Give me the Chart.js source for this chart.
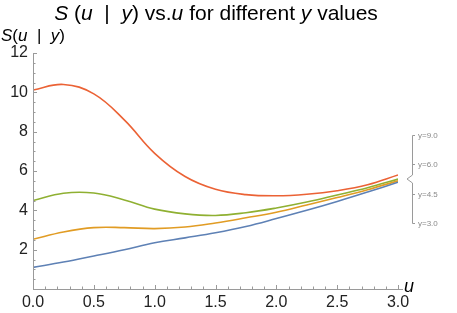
<!DOCTYPE html>
<html>
<head>
<meta charset="utf-8">
<script src="https://cdn.jsdelivr.net/npm/chart.js@4.4.1/dist/chart.umd.min.js"></script>
<style>
  html, body { margin: 0; padding: 0; background: #fff; }
  #wrap { width: 457px; height: 313px; }
</style>
</head>
<body>
<div id="wrap"><canvas id="myChart" width="457" height="313"></canvas></div>
<script>
// values
const uValues = [0, 0.25, 0.5, 0.75, 1.0, 1.25, 1.5, 1.75, 2.0, 2.25, 2.5, 2.75, 3.0];
const sY3  = [1.10, 1.37, 1.68, 2.00, 2.35, 2.60, 2.86, 3.18, 3.58, 4.00, 4.45, 4.93, 5.43];
const sY45 = [2.53, 2.90, 3.12, 3.12, 3.07, 3.15, 3.36, 3.62, 3.90, 4.27, 4.65, 5.05, 5.50];
const sY6  = [4.50, 4.87, 4.88, 4.53, 4.06, 3.82, 3.74, 3.88, 4.12, 4.42, 4.78, 5.15, 5.59];
const sY9  = [10.12, 10.40, 9.92, 8.60, 6.90, 5.72, 5.07, 4.80, 4.74, 4.82, 5.00, 5.30, 5.80];

const legendLabels = ['y=9.0', 'y=6.0', 'y=4.5', 'y=3.0'];
const lineColors = ['#EB6235', '#8FB032', '#E19C24', '#5E81B5'];
const xTicks = [0, 0.5, 1.0, 1.5, 2.0, 2.5, 3.0];
const yTicks = [2, 4, 6, 8, 10, 12];

const AXIS = '#9a9a9a';
const FONT = '"Liberation Sans", Arial, sans-serif';

function pts(vals) {
  return uValues.map((u, i) => ({ x: u, y: vals[i] }));
}

function drawRich(ctx, parts, x, y, size, align) {
  let total = 0;
  parts.forEach(p => {
    ctx.font = (p[1] ? 'italic ' : '') + size + 'px ' + FONT;
    total += ctx.measureText(p[0]).width;
  });
  let cx = align === 'center' ? x - total / 2 : x;
  parts.forEach(p => {
    ctx.font = (p[1] ? 'italic ' : '') + size + 'px ' + FONT;
    ctx.fillText(p[0], cx, y);
    cx += ctx.measureText(p[0]).width;
  });
}

const decorations = {
  id: 'decorations',
  afterDraw(chart) {
    const ctx = chart.ctx;
    const xs = chart.scales.x, ys = chart.scales.y;
    const x0 = xs.getPixelForValue(0), y0 = ys.getPixelForValue(0);
    ctx.save();
    // axes lines
    ctx.strokeStyle = AXIS;
    ctx.lineWidth = 1;
    ctx.beginPath();
    ctx.moveTo(x0 + 0.5, y0);
    ctx.lineTo(x0 + 0.5, ys.getPixelForValue(12));
    ctx.moveTo(x0, y0 + 0.5);
    ctx.lineTo(xs.getPixelForValue(3) + 5, y0 + 0.5);
    // x ticks (inward)
    for (let i = 0; i <= 30; i++) {
      const px = Math.round(xs.getPixelForValue(i / 10)) + 0.5;
      const len = i % 5 === 0 ? 4 : 2.5;
      ctx.moveTo(px, y0);
      ctx.lineTo(px, y0 - len);
    }
    // y ticks (inward)
    for (let i = 0; i <= 24; i++) {
      const py = Math.round(ys.getPixelForValue(i / 2)) + 0.5;
      const len = i % 4 === 0 ? 4 : 2.5;
      ctx.moveTo(x0, py);
      ctx.lineTo(x0 + len, py);
    }
    ctx.stroke();

    // title
    ctx.fillStyle = '#000';
    ctx.textBaseline = 'alphabetic';
    ctx.textAlign = 'left';
    drawRich(ctx, [['S', true], [' (', false], ['u', true], ['  |  ', false], ['y', true],
      [') vs.', false], ['u', true], [' for different ', false], ['y', true], [' values', false]],
      216, 20, 21, 'center');
    // y axis label
    drawRich(ctx, [['S', true], ['(', false], ['u', true], ['  |  ', false], ['y', true], [')', false]],
      1, 41, 17, 'left');
    // x axis label
    drawRich(ctx, [['u', true]], xs.getPixelForValue(3) + 6, 292, 18, 'left');

    // brace legend
    const labelY = [135, 164, 194, 223];
    const sx = 412, apexX = 407, apexY = 179;
    ctx.strokeStyle = AXIS;
    ctx.beginPath();
    ctx.moveTo(415, labelY[0] + 0.5);
    ctx.lineTo(sx + 0.5, labelY[0] + 0.5);
    ctx.lineTo(sx + 0.5, apexY - 4);
    ctx.lineTo(apexX, apexY);
    ctx.lineTo(sx + 0.5, apexY + 4);
    ctx.lineTo(sx + 0.5, labelY[3] + 0.5);
    ctx.lineTo(415, labelY[3] + 0.5);
    ctx.moveTo(sx + 0.5, labelY[1] + 0.5);
    ctx.lineTo(415, labelY[1] + 0.5);
    ctx.moveTo(sx + 0.5, labelY[2] + 0.5);
    ctx.lineTo(415, labelY[2] + 0.5);
    ctx.stroke();
    ctx.fillStyle = '#8a8a8a';
    ctx.font = '8px ' + FONT;
    ctx.textBaseline = 'middle';
    legendLabels.forEach((t, i) => ctx.fillText(t, 418, labelY[i] + 0.5));
    ctx.restore();
  }
};

const config = {
  type: 'line',
  data: {
    datasets: [sY3, sY45, sY6, sY9].map((vals, i) => ({
      label: legendLabels[3 - i],
      data: pts(vals),
      borderColor: lineColors[3 - i],
      borderWidth: 1.6,
      pointRadius: 0,
      tension: 0.4,
      fill: false
    }))
  },
  options: {
    responsive: false,
    animation: false,
    events: [],
    layout: { padding: { top: 53, right: 59, left: 0, bottom: 0 } },
    plugins: {
      legend: { display: false },
      title: { display: false },
      tooltip: { enabled: false }
    },
    scales: {
      x: {
        type: 'linear',
        min: 0,
        max: 3,
        afterBuildTicks: s => { s.ticks = xTicks.map(v => ({ value: v })); },
        afterFit: s => { s.height = 24; },
        ticks: {
          padding: 4,
          maxRotation: 0,
          autoSkip: false,
          color: '#222',
          font: { family: FONT, size: 16 },
          callback: v => Number(v).toFixed(1)
        },
        grid: { display: false, drawTicks: false },
        border: { display: false }
      },
      y: {
        min: 0,
        max: 12,
        afterBuildTicks: s => { s.ticks = yTicks.map(v => ({ value: v })); },
        afterFit: s => { s.width = 33; },
        ticks: {
          padding: 5,
          color: '#222',
          font: { family: FONT, size: 16 },
          callback: v => String(v)
        },
        grid: { display: false, drawTicks: false },
        border: { display: false }
      }
    }
  },
  plugins: [decorations]
};

new Chart(document.getElementById('myChart'), config);
</script>
</body>
</html>
